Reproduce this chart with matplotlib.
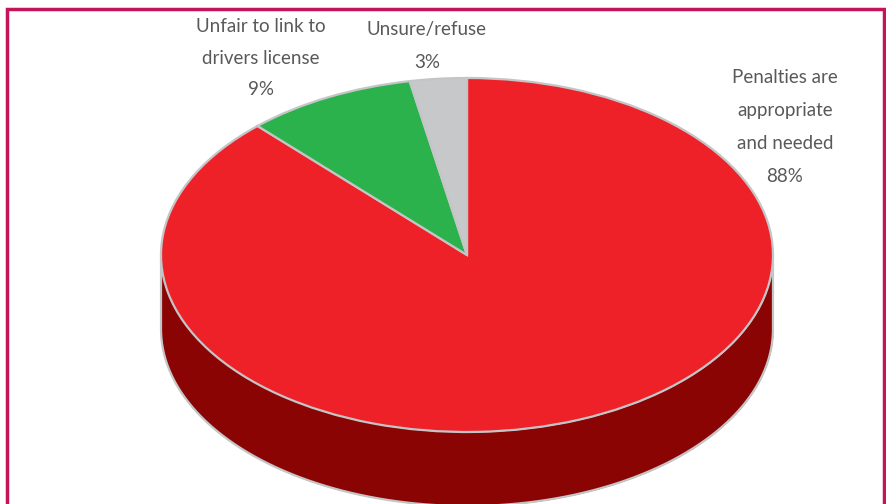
import numpy as np
import matplotlib.pyplot as plt
from matplotlib.patches import Rectangle

plt.rcParams['font.family'] = ['Lato', 'Liberation Sans', 'DejaVu Sans']

# Значения диаграммы
labels = ['Penalties are\nappropriate\nand needed\n88%', 'Unfair to link to\ndrivers license\n9%', 'Unsure/refuse\n3%']
values = [88, 9, 3]
colors = ['#EE2129', '#2BB24C', '#C7C8CA']
side_color = '#8A0404'
edge_color = '#C4C5C7'
text_color = '#58595B'
border_color = '#C4145A'

W, H = 887, 504
fig = plt.figure(figsize=(W / 100, H / 100), dpi=100)

# Оси в пикселях картинки, вся рамка и текст в этих координатах
ax = fig.add_axes([0, 0, 1, 1])
ax.set_xlim(0, W)
ax.set_ylim(H, 0)
ax.axis('off')

cx, cy = 467, 255
rx, ry = 306, 177
depth = 74

# Рамка, низ уходит за край картинки
ax.add_patch(Rectangle((7.5, 8.5), 877, H + 20, fc='white', ec=border_color, lw=2.5, zorder=0))

# Боковая стенка с серым контуром
t = np.linspace(0, np.pi, 200)
xs = cx + rx * np.cos(t)
ys = cy + ry * np.sin(t)
ax.fill_between(xs, ys, ys + depth, color=side_color, lw=0, zorder=1)
ax.plot(np.r_[xs[0], xs, xs[-1]], np.r_[ys[0], ys + depth, ys[-1]], color=edge_color, lw=1.6, zorder=1)

# Верх пирога, доли по часовой стрелке от 12 часов
pie_ax = fig.add_axes([(cx - rx) / W, 1 - (cy + ry) / H, 2 * rx / W, 2 * ry / H])
pie_ax.pie(values, colors=colors, startangle=90, counterclock=False, radius=1,
           wedgeprops={'edgecolor': edge_color, 'linewidth': 1.6})
pie_ax.set_aspect('auto')
pie_ax.set_xlim(-1, 1)
pie_ax.set_ylim(-1, 1)
pie_ax.patch.set_alpha(0)
for s in pie_ax.patches:
    s.set_clip_on(False)

ax.text(785, 127, labels[0], ha='center', va='center', fontsize=13.5, color=text_color, linespacing=2.12)
ax.text(261, 58, labels[1], ha='center', va='center', fontsize=13.5, color=text_color, linespacing=2.05)
ax.text(427, 46, labels[2], ha='center', va='center', fontsize=13.5, color=text_color, linespacing=2.2)

plt.savefig('out.png', dpi=100)
plt.close()
